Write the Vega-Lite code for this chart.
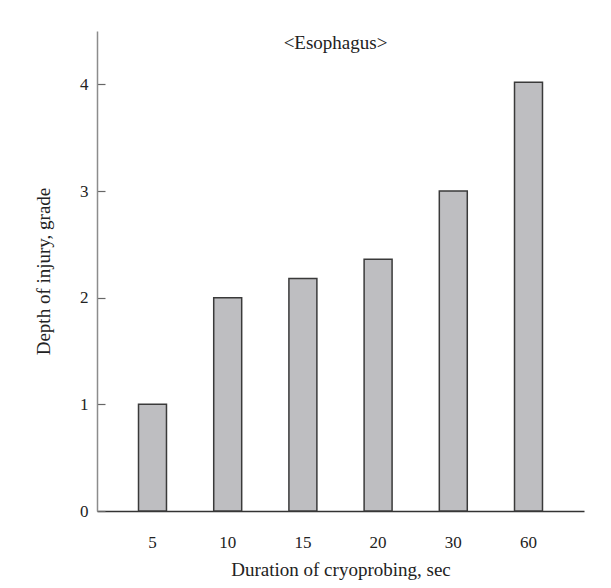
{
  "$schema": "https://vega.github.io/schema/vega-lite/v6.json",
  "autosize": {"type": "none"},
  "width": 487,
  "height": 480,
  "padding": {"left": 97, "top": 31, "right": 27, "bottom": 77},
  "background": "white",
  "config": {
    "view": {"stroke": null},
    "font": "Liberation Serif",
    "axis": {"labelFont": "Liberation Serif", "titleFont": "Liberation Serif", "labelColor": "#222", "titleColor": "#222", "titleFontWeight": "normal", "labelFontWeight": "normal", "grid": false}
  },
  "title": {
    "text": "<Esophagus>",
    "font": "Liberation Serif",
    "fontSize": 19,
    "fontWeight": "normal",
    "color": "#222",
    "anchor": "middle",
    "orient": "top",
    "offset": -22,
    "dx": -5
  },
  "data": {
    "values": [
      {"duration": "5", "grade": 1.0},
      {"duration": "10", "grade": 2.0},
      {"duration": "15", "grade": 2.18},
      {"duration": "20", "grade": 2.36},
      {"duration": "30", "grade": 3.0},
      {"duration": "60", "grade": 4.02}
    ]
  },
  "mark": {"type": "bar", "fill": "#bebec1", "stroke": "#3a3a3a", "strokeWidth": 1.5},
  "encoding": {
    "x": {
      "field": "duration",
      "type": "nominal",
      "sort": null,
      "scale": {"paddingInner": 0.628, "paddingOuter": 0.552},
      "axis": {
        "title": "Duration of cryoprobing, sec",
        "titleFontSize": 19,
        "labelFontSize": 17,
        "labelAngle": 0,
        "domainColor": "#333",
        "domainWidth": 1.5,
        "tickColor": "#333",
        "tickWidth": 1.2,
        "tickSize": -7,
        "labelPadding": 38,
        "labelBaseline": "middle",
        "titleY": 64,
        "titleBaseline": "alphabetic"
      }
    },
    "y": {
      "field": "grade",
      "type": "quantitative",
      "scale": {"domain": [0, 4.5], "nice": false, "zero": true},
      "axis": {
        "title": "Depth of injury, grade",
        "titleFontSize": 19,
        "labelFontSize": 17,
        "format": "d",
        "values": [0, 0.5, 1, 1.5, 2, 2.5, 3, 3.5, 4, 4.5],
        "labelExpr": "datum.value % 1 === 0 ? datum.label : ''",
        "domainColor": "#8c8c8c",
        "domainWidth": 1.5,
        "tickColor": "#666",
        "tickWidth": 1.2,
        "tickSize": -8,
        "labelPadding": 17,
        "titleX": -54,
        "titleBaseline": "middle"
      }
    }
  }
}
